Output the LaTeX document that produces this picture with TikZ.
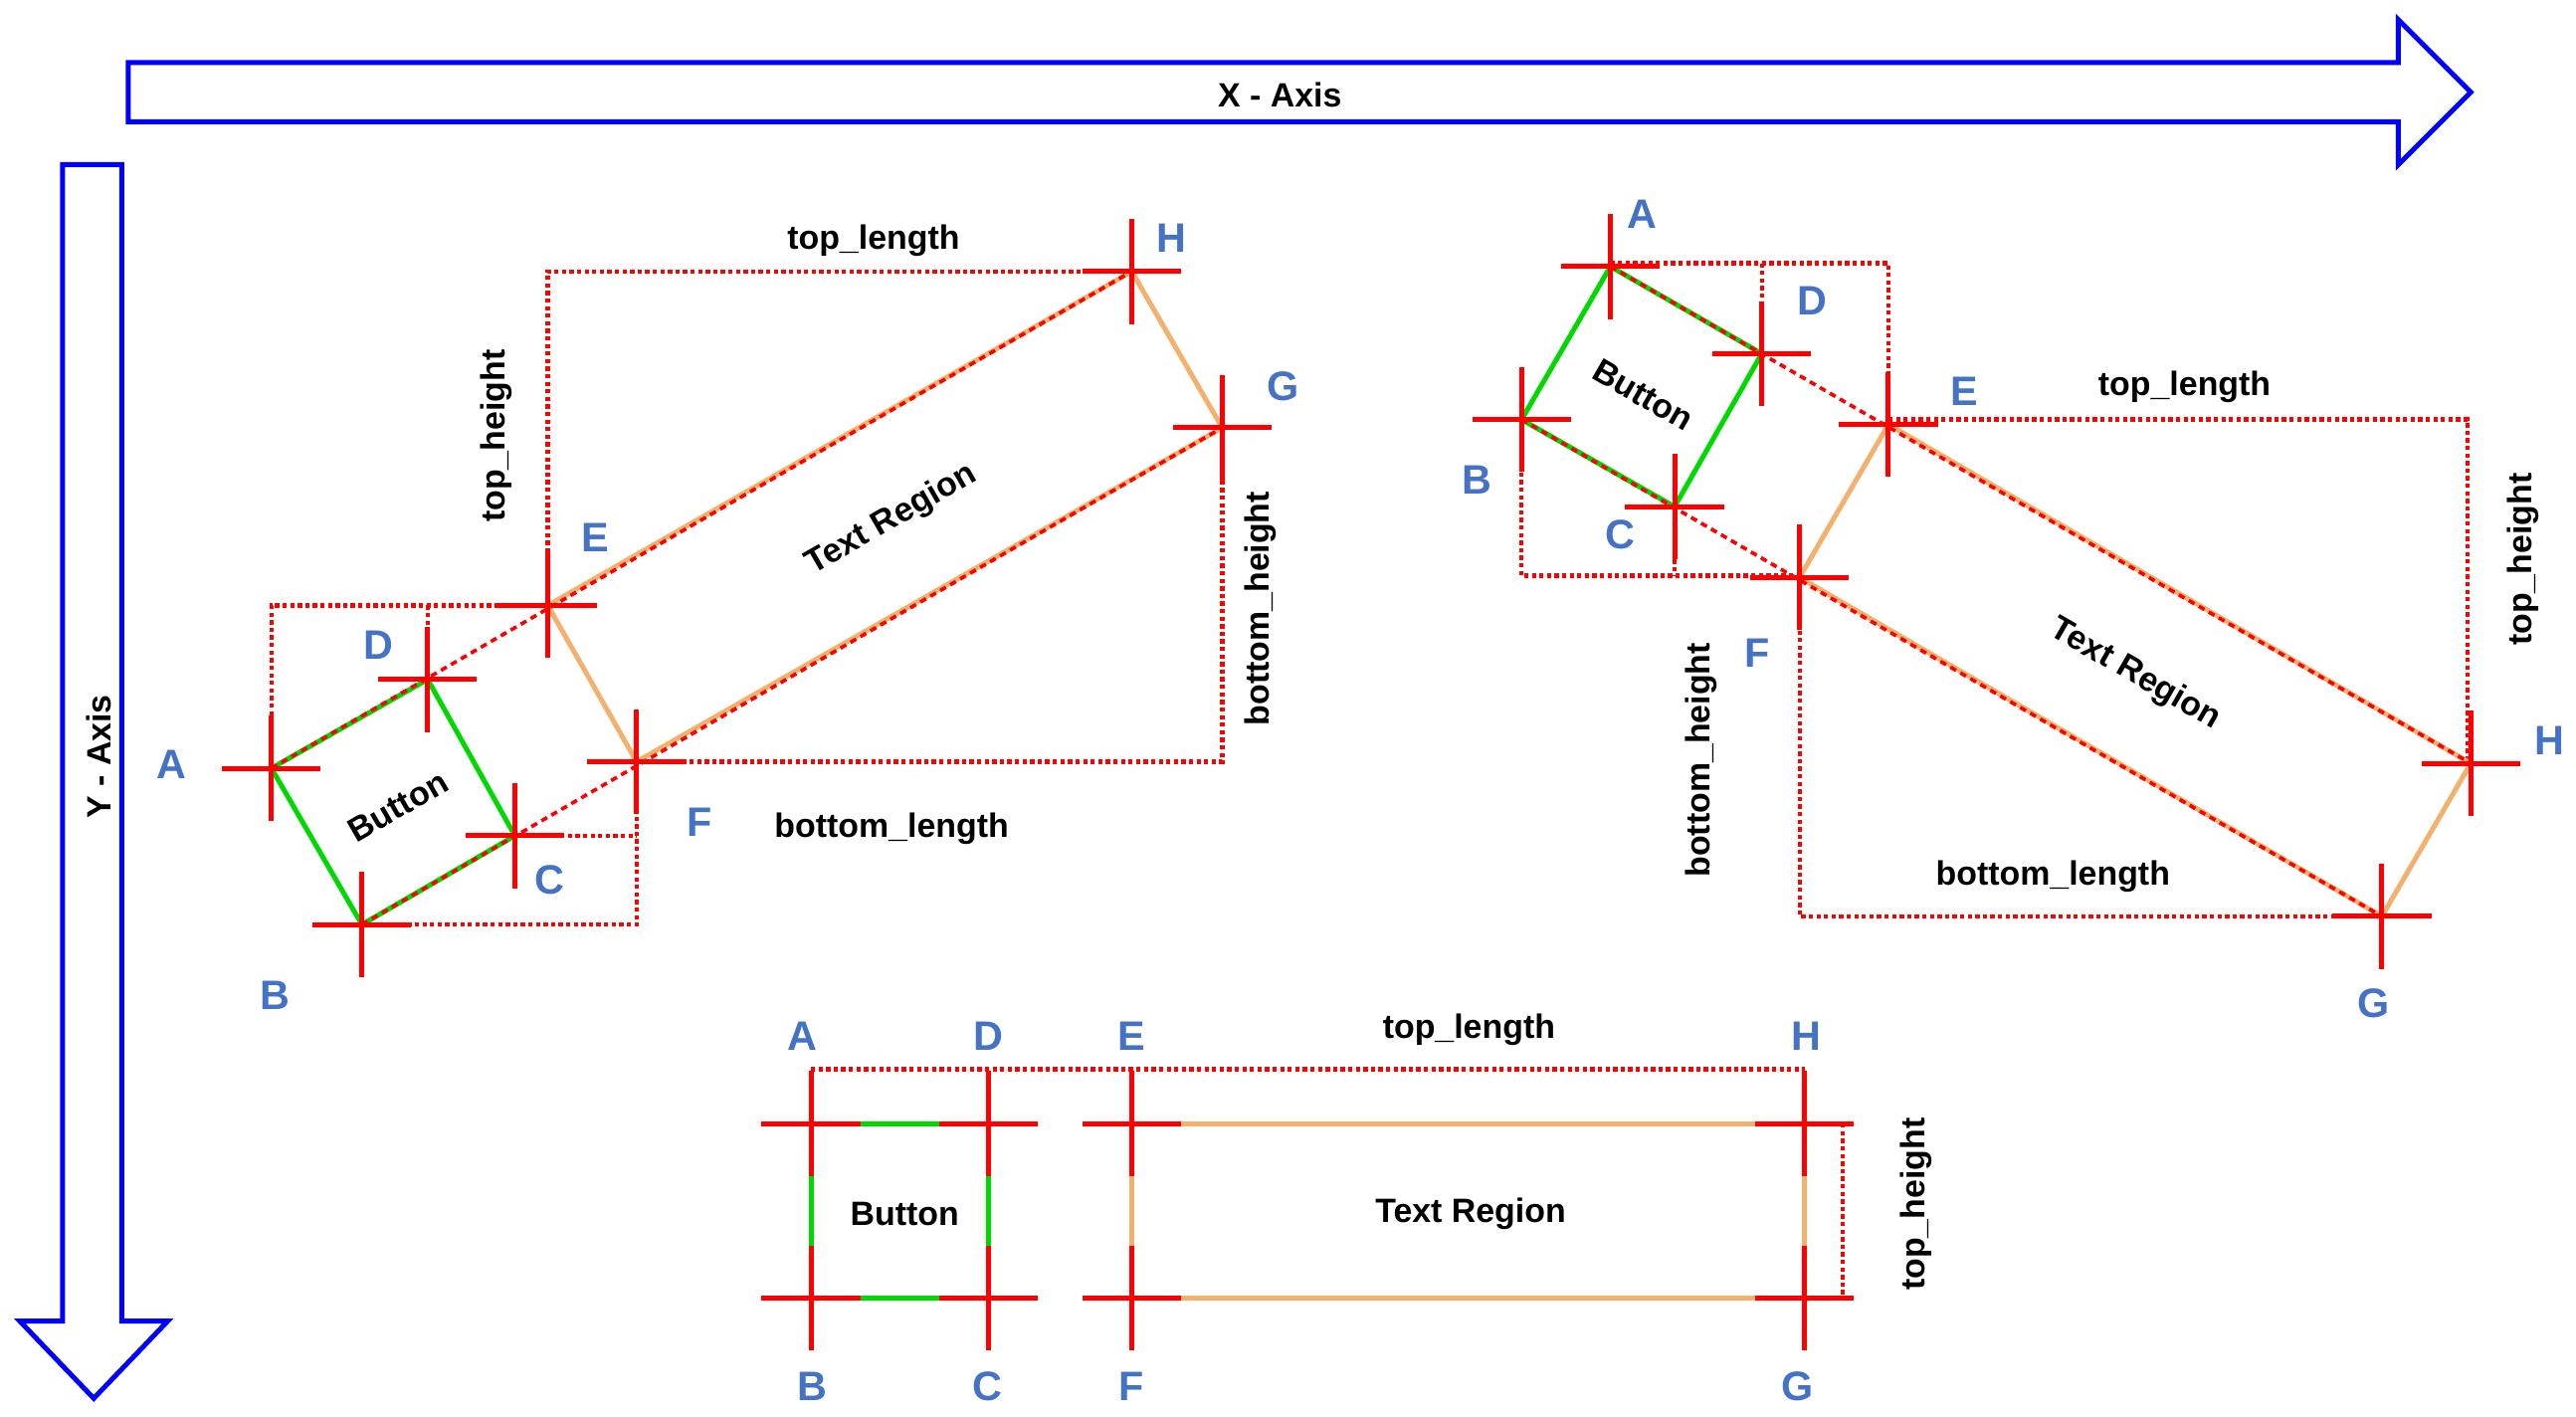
\documentclass[tikz,border=0pt]{standalone}
\usepackage{fontspec}
\setmainfont{Liberation Sans}
\usetikzlibrary{calc}
\begin{document}
\begin{tikzpicture}[x=1pt,y=-1pt,
  txt/.style={font=\bfseries\fontsize{20.5}{20.5}\selectfont},
  dot/.style={red,dotted,line width=2.6pt},
  grn/.style={green!85!black,line width=3pt},
  org/.style={draw=orgc,line width=3pt},
  dsh/.style={red,dashed,dash pattern=on 4pt off 3pt,line width=2.2pt},
  crs/.style={red,line width=3pt}]
\definecolor{lb}{RGB}{68,114,196}
\definecolor{orgc}{RGB}{244,177,110}
\tikzset{lbl/.style={text=lb,font=\bfseries\fontsize{25}{25}\selectfont}}
\useasboundingbox (0,0) rectangle (1566,861);
\newcommand{\cross}[1]{\draw[crs] ($(#1)+(-30,0)$) -- ($(#1)+(30,0)$); \draw[crs] ($(#1)+(0,-32)$) -- ($(#1)+(0,32)$);}
% axes
\draw[blue,line width=3pt] (78,38) -- (1458,38) -- (1458,12) -- (1502,56) -- (1458,100) -- (1458,74) -- (78,74) -- cycle;
\node[txt] (xa) at (778,58) {X - Axis};
\draw[blue,line width=3pt] (38,100) -- (74,100) -- (74,803) -- (102,803) -- (57,850) -- (12,803) -- (38,803) -- cycle;
\node[txt,rotate=90] (ya) at (60,460) {Y - Axis};
% ---------- left group
\coordinate (LA) at (165,467); \coordinate (LD) at (260,413);
\coordinate (LC) at (313,508); \coordinate (LB) at (220,562);
\coordinate (LE) at (333,368); \coordinate (LF) at (387,463);
\coordinate (LH) at (688,165); \coordinate (LG) at (743,260);
\draw[dot] (165,467) -- (165,368) -- (333,368);
\draw[dot] (260,368) -- (260,413);
\draw[dot] (333,368) -- (333,165) -- (688,165);
\draw[dot] (387,463) -- (743,463) -- (743,260);
\draw[dot] (220,562) -- (387,562) -- (387,463);
\draw[dot] (313,508) -- (387,508);
\draw[grn] (LA) -- (LD) -- (LC) -- (LB) -- cycle;
\draw[org] (LE) -- (LH) -- (LG) -- (LF) -- cycle;
\draw[dsh] (LA) -- (LH); \draw[dsh] (LB) -- (LG);
\foreach \p in {LA,LB,LC,LD,LE,LF,LG,LH}{\cross{\p}}
\node[lbl] (tLA) at (104,465) {A}; \node[lbl] (tLD) at (230,392) {D};
\node[lbl] (tLC) at (334,535) {C}; \node[lbl] (tLB) at (167,605) {B};
\node[lbl] (tLE) at (362,327) {E}; \node[lbl] (tLF) at (425,500) {F};
\node[lbl] (tLH) at (712,145) {H}; \node[lbl] (tLG) at (780,235) {G};
\node[txt] (l1) at (531,146) {top\_length};
\node[txt,rotate=90] (l2) at (302,265) {top\_height};
\node[txt,rotate=90] (l3) at (766,370) {bottom\_height};
\node[txt] (l4) at (542,504) {bottom\_length};
\node[txt,rotate=30] (l5) at (542,316) {Text Region};
\node[txt,rotate=30] (l6) at (242,490) {Button};
% ---------- right group
\coordinate (RA) at (979,162); \coordinate (RD) at (1071,215);
\coordinate (RE) at (1148,258); \coordinate (RB) at (925,255);
\coordinate (RC) at (1018,308); \coordinate (RF) at (1094,351);
\coordinate (RH) at (1502,464); \coordinate (RG) at (1448,557);
\draw[dot] (979,160) -- (1148,160) -- (1148,258);
\draw[dot] (1071,160) -- (1071,215);
\draw[dot] (1148,255) -- (1500,255) -- (1500,464);
\draw[dot] (925,255) -- (925,350) -- (1094,350);
\draw[dot] (1018,308) -- (1018,350);
\draw[dot] (1094,351) -- (1094,557) -- (1448,557);
\draw[grn] (RA) -- (RD) -- (RC) -- (RB) -- cycle;
\draw[org] (RE) -- (RH) -- (RG) -- (RF) -- cycle;
\draw[dsh] (RA) -- (RH); \draw[dsh] (RB) -- (RG);
\foreach \p in {RA,RB,RC,RD,RE,RF,RG,RH}{\cross{\p}}
\node[lbl] (tRA) at (998,130) {A}; \node[lbl] (tRD) at (1102,183) {D};
\node[lbl] (tRE) at (1194,238) {E}; \node[lbl] (tRB) at (898,292) {B};
\node[lbl] (tRC) at (985,325) {C}; \node[lbl] (tRF) at (1068,397) {F};
\node[lbl] (tRH) at (1550,450) {H}; \node[lbl] (tRG) at (1443,610) {G};
\node[txt] (r1) at (1328,235) {top\_length};
\node[txt,rotate=90] (r2) at (1534,340) {top\_height};
\node[txt,rotate=90] (r3) at (1034,462) {bottom\_height};
\node[txt] (r4) at (1248,533) {bottom\_length};
\node[txt,rotate=-30] (r5) at (1298,410) {Text Region};
\node[txt,rotate=-30] (r6) at (999,240) {Button};
% ---------- bottom group
\coordinate (BA) at (493,683); \coordinate (BD) at (601,683);
\coordinate (BB) at (493,789); \coordinate (BC) at (601,789);
\coordinate (BE) at (688,683); \coordinate (BH) at (1097,683);
\coordinate (BF) at (688,789); \coordinate (BG) at (1097,789);
\draw[dot] (493,650) -- (1097,650);
\draw[dot] (1097,683) -- (1120,683) -- (1120,789) -- (1097,789);
\draw[grn] (BA) -- (BD) -- (BC) -- (BB) -- cycle;
\draw[org] (BE) -- (BH) -- (BG) -- (BF) -- cycle;
\foreach \p in {BA,BB,BC,BD,BE,BF,BG,BH}{\cross{\p}}
\node[lbl] (tBA) at (488,630) {A}; \node[lbl] (tBD) at (601,630) {D};
\node[lbl] (tBE) at (688,630) {E}; \node[lbl] (tBH) at (1098,630) {H};
\node[lbl] (tBB) at (494,843) {B}; \node[lbl] (tBC) at (600,843) {C};
\node[lbl] (tBF) at (688,843) {F}; \node[lbl] (tBG) at (1093,843) {G};
\node[txt] (b1) at (893,626) {top\_length};
\node[txt,rotate=90] (b2) at (1165,732) {top\_height};
\node[txt] (b3) at (550,738) {Button};
\node[txt] (b4) at (894,738) {Text Region};
\end{tikzpicture}
\end{document}
